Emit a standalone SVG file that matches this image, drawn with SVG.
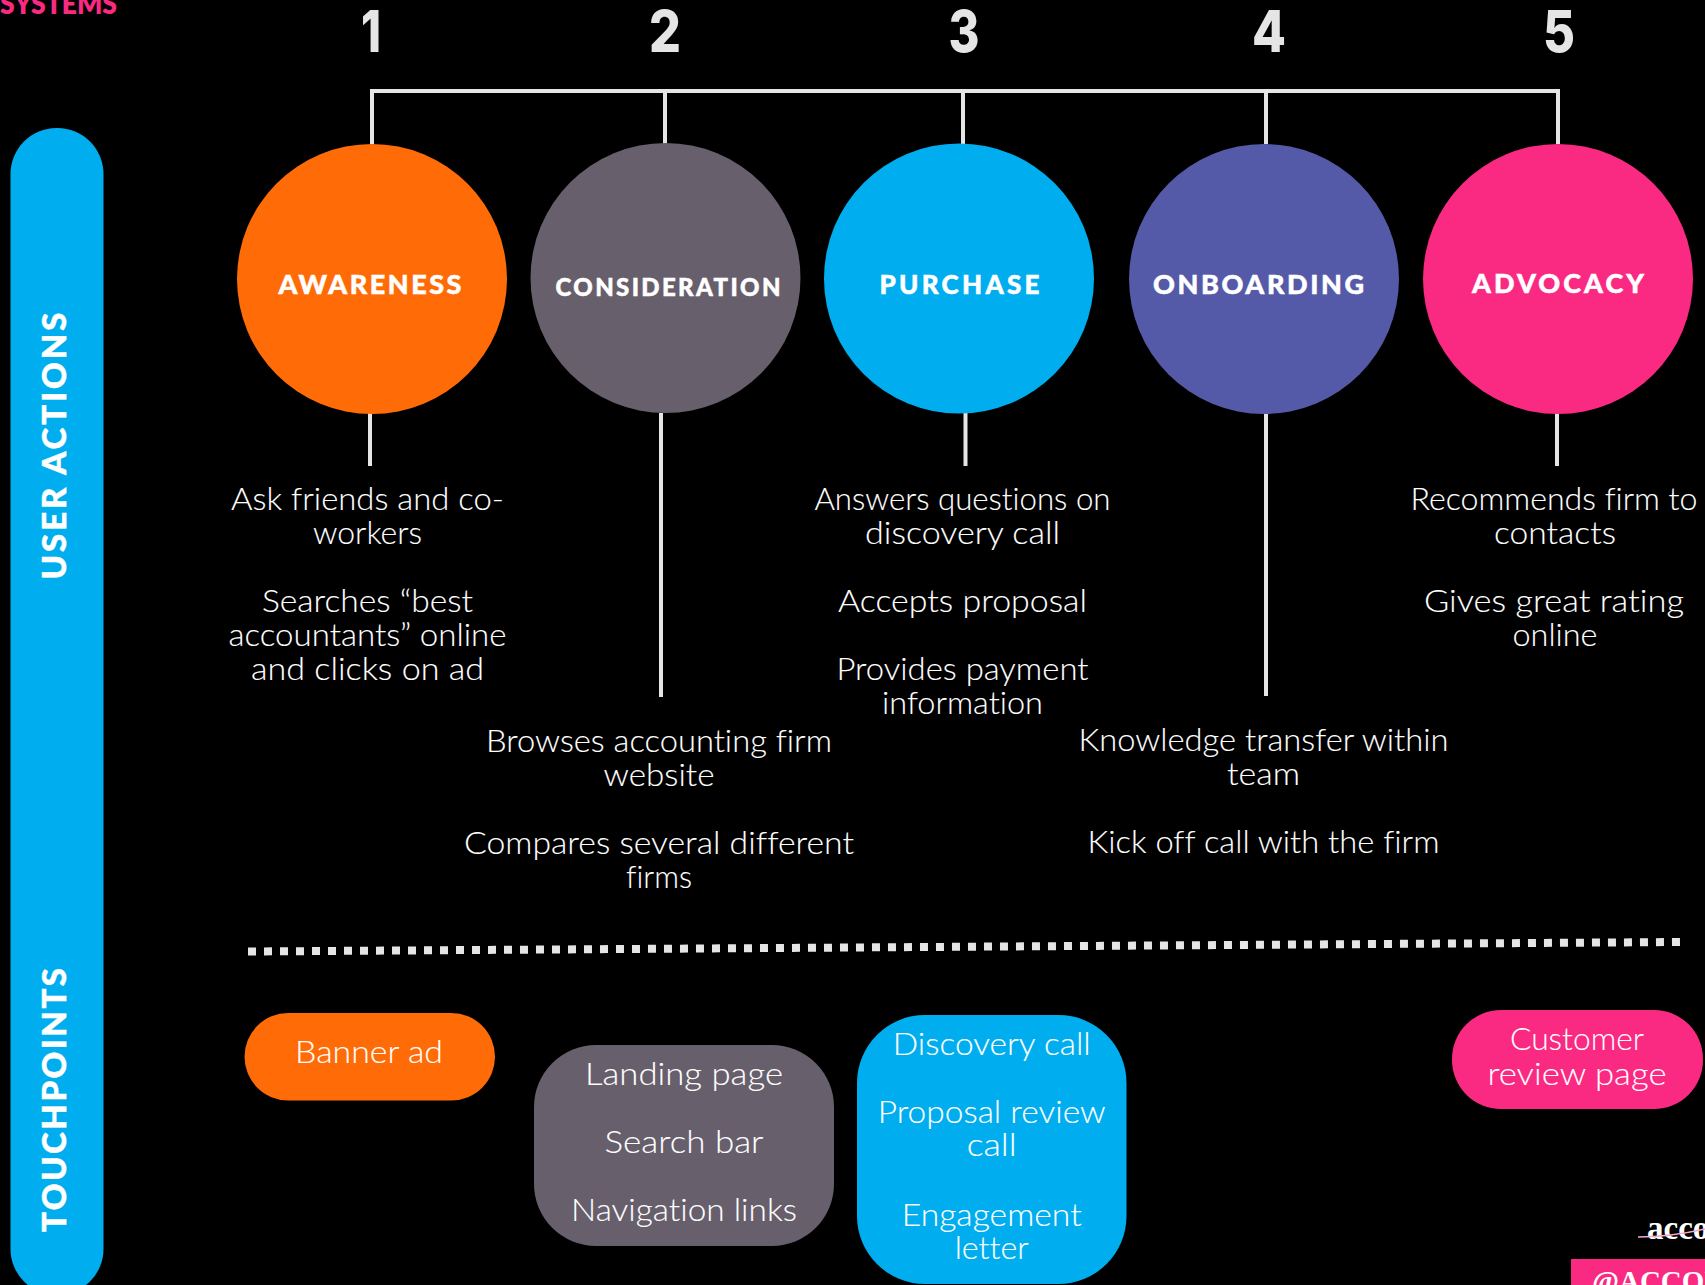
<svg xmlns="http://www.w3.org/2000/svg" width="1705" height="1285" viewBox="0 0 1705 1285">
<style>
text{font-variant-ligatures:none}
.b{font-family:"Lato","Noto Sans",sans-serif;font-weight:300;font-size:31px;fill:#fff;text-anchor:middle;stroke:#fff;stroke-width:.1px}
.h{font-family:"Lato","Noto Sans",sans-serif;font-weight:900;fill:#fff;stroke:#fff;stroke-width:.5px;text-anchor:middle}
.n{font-family:"Inter","Lato",sans-serif;font-weight:800;font-size:58px;fill:#e5e5e5;text-anchor:middle}
.c{fill:none;stroke:#e5e5e5;stroke-width:4}
</style>
<rect width="1705" height="1285" fill="#000"/>
<text id="systems" x="0" y="14" font-family="Lato,sans-serif" font-weight="800" font-size="28" fill="#fa2982" textLength="117" lengthAdjust="spacingAndGlyphs">SYSTEMS</text>
<g id="sidebar">
<rect x="10.500" y="128" width="93" height="1167" rx="46" fill="#00aeef"/>
<text class="h" font-size="33" transform="translate(66,446) rotate(-90)" textLength="267" lengthAdjust="spacing">USER ACTIONS</text>
<text class="h" font-size="33" transform="translate(66,1100) rotate(-90)" textLength="264" lengthAdjust="spacing">TOUCHPOINTS</text>
</g>
<g id="connectors">
<path class="c" d="M372 144V91H1558V144M665 91V144M963 91V144M1266 91V144"/>
<path class="c" d="M370 413V466M661 413V697M965.500 413V466M1266 413V696M1557 413V466"/>
<path d="M248 951.500L1682 942" fill="none" stroke="#e5e5e5" stroke-width="8" stroke-dasharray="8 8"/>
</g>
<g id="n1"><text class="n" x="371" y="52" textLength="20" lengthAdjust="spacingAndGlyphs">1</text><circle cx="372" cy="279" r="135" fill="#ff6c07"/><text class="h" x="370" y="294" font-size="27" textLength="183">AWARENESS</text>
<text class="b" lengthAdjust="spacingAndGlyphs" x="367.500" y="510" textLength="273">Ask friends and co-</text><text class="b" lengthAdjust="spacingAndGlyphs" x="367.500" y="544" textLength="109">workers</text><text class="b" lengthAdjust="spacingAndGlyphs" x="367.500" y="612" textLength="211">Searches “best</text><text class="b" lengthAdjust="spacingAndGlyphs" x="367.500" y="646" textLength="278">accountants” online</text><text class="b" lengthAdjust="spacingAndGlyphs" x="367.500" y="680" textLength="233">and clicks on ad</text></g>
<g id="n2"><text class="n" x="665" y="52" textLength="32" lengthAdjust="spacingAndGlyphs">2</text><circle cx="665.500" cy="278" r="135" fill="#675f6c"/><text class="h" x="668" y="296" font-size="24" textLength="225">CONSIDERATION</text>
<text class="b" lengthAdjust="spacingAndGlyphs" x="659" y="752" textLength="346">Browses accounting firm</text><text class="b" lengthAdjust="spacingAndGlyphs" x="659" y="786" textLength="111">website</text><text class="b" lengthAdjust="spacingAndGlyphs" x="659" y="854" textLength="390">Compares several different</text><text class="b" lengthAdjust="spacingAndGlyphs" x="659" y="888" textLength="66">firms</text></g>
<g id="n3"><text class="n" x="964" y="52" textLength="31" lengthAdjust="spacingAndGlyphs">3</text><circle cx="959" cy="278.500" r="135" fill="#00aeef"/><text class="h" x="959.500" y="294" font-size="26" textLength="160">PURCHASE</text>
<text class="b" lengthAdjust="spacingAndGlyphs" x="962.500" y="510" textLength="296">Answers questions on</text><text class="b" lengthAdjust="spacingAndGlyphs" x="962.500" y="544" textLength="195">discovery call</text><text class="b" lengthAdjust="spacingAndGlyphs" x="962.500" y="612" textLength="249">Accepts proposal</text><text class="b" lengthAdjust="spacingAndGlyphs" x="962.500" y="680" textLength="252">Provides payment</text><text class="b" lengthAdjust="spacingAndGlyphs" x="962.500" y="713.500" textLength="161">information</text></g>
<g id="n4"><text class="n" x="1269" y="52" textLength="34" lengthAdjust="spacingAndGlyphs">4</text><circle cx="1264" cy="279" r="135" fill="#5459a8"/><text class="h" x="1258.500" y="294" font-size="27" textLength="211">ONBOARDING</text>
<text class="b" lengthAdjust="spacingAndGlyphs" x="1263.500" y="750.500" textLength="370">Knowledge transfer within</text><text class="b" lengthAdjust="spacingAndGlyphs" x="1263.500" y="785" textLength="73">team</text><text class="b" lengthAdjust="spacingAndGlyphs" x="1263.500" y="852.500" textLength="352">Kick off call with the firm</text></g>
<g id="n5"><text class="n" x="1559" y="52" textLength="32" lengthAdjust="spacingAndGlyphs">5</text><circle cx="1558" cy="279" r="135" fill="#fa2982"/><text class="h" x="1558" y="293" font-size="27" textLength="172">ADVOCACY</text>
<text class="b" lengthAdjust="spacingAndGlyphs" x="1554" y="510" textLength="287">Recommends firm to</text><text class="b" lengthAdjust="spacingAndGlyphs" x="1555" y="544" textLength="122">contacts</text><text class="b" lengthAdjust="spacingAndGlyphs" x="1554" y="612" textLength="260">Gives great rating</text><text class="b" lengthAdjust="spacingAndGlyphs" x="1555" y="646" textLength="85">online</text></g>
<g id="t1"><rect x="244.500" y="1013" width="250.500" height="87.500" rx="43.750" fill="#ff6c07"/><text class="b" lengthAdjust="spacingAndGlyphs" x="369" y="1063" textLength="148">Banner ad</text></g>
<g id="t2"><rect x="534" y="1045" width="300" height="201" rx="62" fill="#675f6c"/><text class="b" lengthAdjust="spacingAndGlyphs" x="684" y="1085" textLength="198">Landing page</text><text class="b" lengthAdjust="spacingAndGlyphs" x="684" y="1153" textLength="159">Search bar</text><text class="b" lengthAdjust="spacingAndGlyphs" x="684" y="1221" textLength="226">Navigation links</text></g>
<g id="t3"><rect x="857" y="1015" width="269.500" height="269" rx="68" fill="#00aeef"/><text class="b" lengthAdjust="spacingAndGlyphs" x="991.700" y="1055" textLength="198">Discovery call</text><text class="b" lengthAdjust="spacingAndGlyphs" x="991.700" y="1123" textLength="228">Proposal review</text><text class="b" lengthAdjust="spacingAndGlyphs" x="991.700" y="1156" textLength="50">call</text><text class="b" lengthAdjust="spacingAndGlyphs" x="991.700" y="1226" textLength="180">Engagement</text><text class="b" lengthAdjust="spacingAndGlyphs" x="991.700" y="1259" textLength="74">letter</text></g>
<g id="t5"><rect x="1452" y="1010" width="251" height="99" rx="49" fill="#fa2982"/><text class="b" lengthAdjust="spacingAndGlyphs" x="1577" y="1050" textLength="134">Customer</text><text class="b" lengthAdjust="spacingAndGlyphs" x="1577" y="1085" textLength="179">review page</text></g>
<g id="credit">
<text x="1647" y="1239" font-family="Liberation Serif,serif" font-weight="700" font-size="33" fill="#fff">acco</text>
<path d="M1638 1237Q1670 1237 1705 1229" fill="none" stroke="#f4a9cc" stroke-width="1.500"/>
<rect x="1571" y="1259" width="134" height="26" fill="#fa2982"/>
<text x="1592" y="1290.500" font-family="Liberation Serif,serif" font-weight="700" font-size="29" fill="#fff">@ACCOU</text>
</g>
</svg>
